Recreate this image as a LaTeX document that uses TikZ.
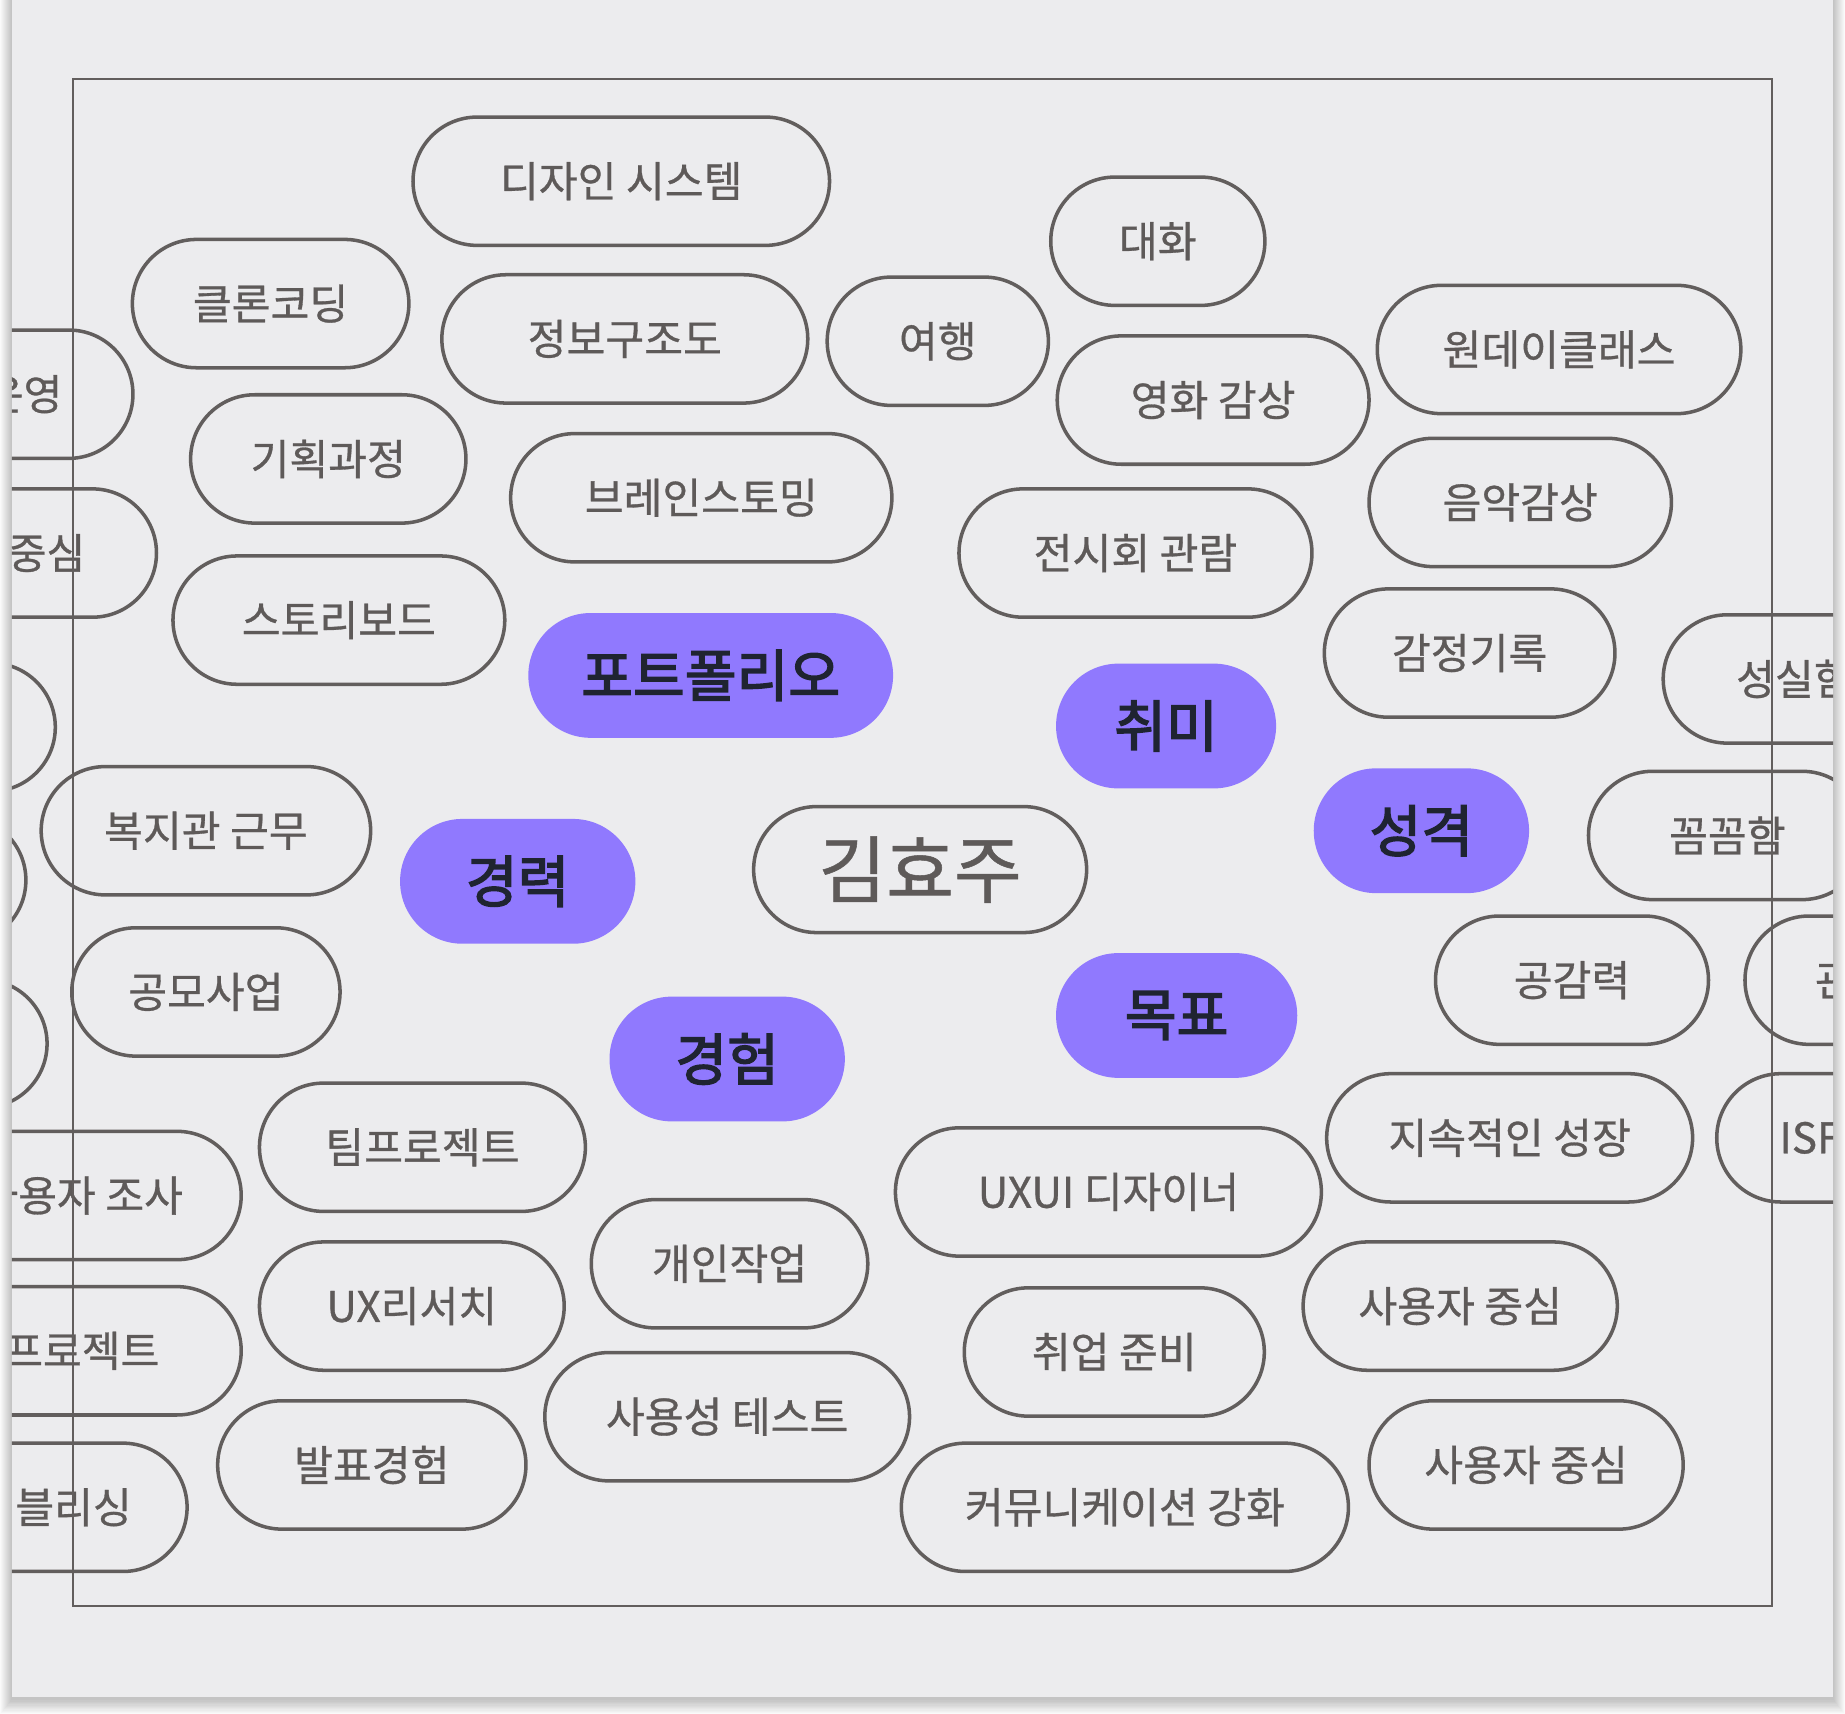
\documentclass[tikz,border=0pt]{standalone}
\usepackage{fontspec}
\setmainfont{Noto Sans CJK KR}
\newfontfamily\chipfont{Noto Sans CJK KR}[FakeBold=0.7]
\newfontfamily\keyfont{Noto Sans CJK KR}[FakeBold=2.6]
\usepackage{tikz}
\usetikzlibrary{positioning}
\definecolor{cardbg}{HTML}{ECECEE}
\definecolor{rim}{HTML}{625E5D}
\definecolor{label}{HTML}{5E5A59}
\definecolor{keyfill}{HTML}{9079FE}
\definecolor{keyink}{HTML}{1F2431}
\tikzset{
  chip/.style={draw=rim, line width=0.85pt, text=label, rounded corners=0.545cm,
    minimum height=1.09cm, inner sep=0pt, font=\chipfont\fontsize{10.2}{12}\selectfont},
  keychip/.style={fill=keyfill, text=keyink, rounded corners=0.53cm,
    minimum height=1.06cm, inner sep=0pt, font=\keyfont\fontsize{13.6}{16}\selectfont},
  namechip/.style={chip, rounded corners=0.535cm, minimum height=1.07cm,
    font=\chipfont\fontsize{17.8}{20}\selectfont}
}
\newcommand{\chip}[5]{%
  \node[chip, minimum width=#4*0.01cm] (#1) at (#2,#3) {#5};
}
\newcommand{\keychip}[5]{%
  \node[keychip, minimum width=#4*0.01cm] (#1) at (#2,#3) {#5};
}

\begin{document}
\begin{tikzpicture}[x=0.01cm, y=-0.01cm]
  \useasboundingbox (0,0) rectangle (1568,1456);
  \fill[white] (0,0) rectangle (1568,1456);
  % card and its shadow
  \foreach \s in {1,...,12} {
    \fill[black, opacity=0.018] (10-0.8*\s,-20) rectangle (1558+0.8*\s,{1444+1.1*\s});
  }
  \fill[cardbg] (10,-20) rectangle (1558,1442);
  \begin{scope}
    \clip (10,0) rectangle (1558,1442);
    % left column, cut by the card edge
    \chip{ops}{20}{335}{186}{운영}
    \chip{ucenter}{-14}{470}{294}{사용자 중심}
    \chip{blankA}{-53}{618}{200}{}
    \chip{blankB}{-78}{748}{200}{}
    \chip{blankC}{-60}{887}{200}{}
    \chip{research}{69}{1016}{272}{사용자 조사}
    \chip{sideproj}{16}{1148}{378}{사이드 프로젝트}
    \chip{publish}{46}{1281}{226}{퍼블리싱}
    % work side
    \chip{dsys}{528}{154}{354}{디자인 시스템}
    \chip{clone}{230}{258}{235}{클론코딩}
    \chip{ia}{531}{288}{311}{정보구조도}
    \chip{plan}{279}{390}{234}{기획과정}
    \chip{brain}{596}{423}{324}{브레인스토밍}
    \chip{story}{288}{527}{282}{스토리보드}
    \chip{welfare}{175}{706}{280}{복지관 근무}
    \chip{contest}{175}{843}{228}{공모사업}
    \chip{team}{359}{975}{277}{팀프로젝트}
    \chip{solo}{620}{1074}{235}{개인작업}
    \chip{uxr}{350}{1110}{259}{UX리서치}
    \chip{usability}{618}{1204}{310}{사용성 테스트}
    \chip{present}{316}{1245}{262}{발표경험}
    % hobby side
    \chip{talk}{984}{205}{182}{대화}
    \chip{travel}{797}{290}{188}{여행}
    \chip{oneday}{1325}{297}{309}{원데이클래스}
    \chip{movie}{1031}{340}{265}{영화 감상}
    \chip{music}{1292}{427}{257}{음악감상}
    \chip{exhib}{965}{470}{300}{전시회 관람}
    \chip{emotion}{1249}{555}{247}{감정기록}
    % character side, cut on the right
    \chip{sincere}{1525}{577}{223}{성실함}
    \chip{careful}{1468}{710}{236}{꼼꼼함}
    \chip{empathy}{1336}{833}{232}{공감력}
    \chip{observe}{1592}{833}{218}{관찰력}
    \chip{isfj}{1545}{967}{172}{ISFJ}
    % goals
    \chip{growth}{1283}{967}{311}{지속적인 성장}
    \chip{uxui}{942}{1013}{362}{UXUI 디자이너}
    \chip{ucenter2}{1241}{1110}{267}{사용자 중심}
    \chip{job}{947}{1149}{255}{취업 준비}
    \chip{ucenter3}{1297}{1245}{267}{사용자 중심}
    \chip{comm}{956}{1281}{380}{커뮤니케이션 강화}
    % keywords (purple)
    \keychip{portfolio}{604}{574}{310}{포트폴리오}
    \keychip{hobby}{991}{617}{187}{취미}
    \keychip{person}{1208}{706}{183}{성격}
    \keychip{career}{440}{749}{200}{경력}
    \keychip{goal}{1000}{863}{205}{목표}
    \keychip{exper}{618}{900}{200}{경험}
    % centre
    \node[namechip, minimum width=283*0.01cm] (name) at (782,739) {김효주};
  \end{scope}
  % frame
  \draw[rim, line width=0.57pt] (62,67) rectangle (1506,1365);
\end{tikzpicture}
\end{document}
